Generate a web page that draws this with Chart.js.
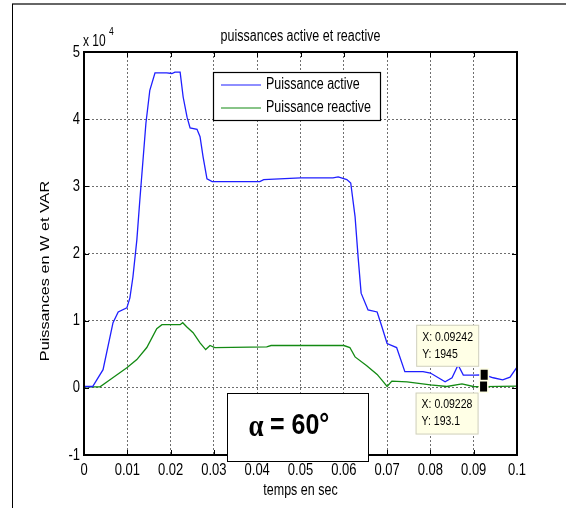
<!DOCTYPE html>
<html>
<head>
<meta charset="utf-8">
<title>puissances active et reactive</title>
<script src="https://cdn.jsdelivr.net/npm/chart.js"></script>
<style>
  body { margin: 0; background: #fff; }
  #wrap { position: relative; width: 566px; height: 508px; }
</style>
</head>
<body>
<div id="wrap"><canvas id="pq"></canvas></div>
<script>
// temps (s) / puissance active (W)
const tActive = [0, 0.002, 0.0044, 0.0067, 0.0079, 0.0099, 0.0106, 0.0113, 0.0122, 0.0129,
  0.0143, 0.0152, 0.0164, 0.0191, 0.0203, 0.021, 0.0222, 0.0229, 0.0238, 0.0245,
  0.0261, 0.0268, 0.0275, 0.0284, 0.0296, 0.0406, 0.0415, 0.05, 0.0575, 0.0587,
  0.0607, 0.0616, 0.0626, 0.0633, 0.064, 0.0656, 0.0677, 0.0688, 0.07, 0.0722,
  0.0741, 0.0783, 0.08, 0.0834, 0.085, 0.0864, 0.0876, 0.0903, 0.09242, 0.0945,
  0.0967, 0.0984, 0.1];
const pActive = [200, 200, 2700, 9700, 11300, 11900, 13400, 16500, 22000, 28000,
  39400, 44300, 46900, 46900, 46800, 47000, 47000, 43300, 40300, 38700,
  38500, 37400, 34400, 31100, 30700, 30700, 31000, 31250, 31250, 31400,
  31000, 30500, 25500, 19500, 14100, 11600, 11300, 9100, 6600, 6000,
  2400, 2400, 2200, 900, 1500, 3400, 1900, 1900, 1945, 1500,
  1200, 1600, 3100];

// temps (s) / puissance reactive (VAR)
const tReactive = [0, 0.0037, 0.006, 0.0099, 0.0122, 0.0145, 0.0168, 0.018, 0.0222, 0.0228,
  0.0237, 0.0252, 0.0268, 0.0281, 0.0291, 0.0302, 0.0422, 0.0432, 0.06, 0.0614,
  0.0626, 0.0653, 0.0677, 0.069, 0.07, 0.0711, 0.0746, 0.08, 0.0838, 0.0873,
  0.0899, 0.09228, 0.1];
const qReactive = [150, 150, 1200, 3000, 4200, 6000, 8800, 9400, 9400, 9700,
  9100, 8200, 6700, 5700, 6300, 6000, 6100, 6300, 6300, 6000,
  4600, 3300, 2000, 1000, 200, 1000, 900, 450, 200, 600,
  200, 193.1, 250];

// axes
const xMin = 0, xMax = 0.1, xStep = 0.01;
const yMin = -10000, yMax = 50000, yStep = 10000;

// curseurs de donnees
const tipActive = { x: 0.09242, y: 1945 };
const tipReactive = { x: 0.09228, y: 193.1 };

const FONT = "'Liberation Sans', Arial, sans-serif";
const SY = 1.3; // vertical stretch of the lettering

function pairs(xs, ys) { return xs.map((x, i) => ({ x: x, y: ys[i] })); }

function txt(ctx, s, x, y, size, opts) {
  opts = opts || {};
  ctx.save();
  ctx.translate(x, y);
  if (opts.rot) { ctx.rotate(-Math.PI / 2); ctx.scale(SY, 1); }
  else ctx.scale(1, opts.sy || SY);
  ctx.font = (opts.bold ? 'bold ' : '') + size + 'px ' + (opts.family || FONT);
  ctx.fillStyle = opts.color || '#000';
  ctx.textAlign = opts.align || 'left';
  ctx.textBaseline = 'middle';
  ctx.fillText(s, 0, 0);
  ctx.restore();
}

function fmtX(v) { return String(Math.round(v * 100) / 100); }

function drawTip(ctx, chart, tip, dx, dy) {
  const sx = chart.scales.x, sy = chart.scales.y;
  const px = sx.getPixelForValue(tip.x), py = sy.getPixelForValue(tip.y);
  const bx = px + dx, by = py + dy, bw = 63, bh = 42;
  ctx.save();
  ctx.fillStyle = '#ffffe6';
  ctx.strokeStyle = '#cfcfc0';
  ctx.lineWidth = 1;
  ctx.fillRect(bx, by, bw, bh);
  ctx.strokeRect(bx + 0.5, by + 0.5, bw - 1, bh - 1);
  // marker
  ctx.fillStyle = '#ffffe6';
  ctx.fillRect(px - 5, py - 6.5, 10, 13);
  ctx.fillStyle = '#000';
  ctx.fillRect(px - 3.5, py - 5, 7, 10);
  ctx.restore();
  txt(ctx, 'X: ' + tip.x, bx + 6, by + 12, 10.5);
  txt(ctx, 'Y: ' + tip.y, bx + 6, by + 29, 10.5);
}

const decor = {
  id: 'decor',
  beforeDraw(chart) {
    const ctx = chart.ctx;
    ctx.save();
    ctx.fillStyle = '#fff';
    ctx.fillRect(0, 0, chart.width, chart.height);
    ctx.strokeStyle = '#666';
    ctx.lineWidth = 2;
    ctx.beginPath(); ctx.moveTo(12, 4); ctx.lineTo(chart.width, 4); ctx.stroke();
    ctx.strokeStyle = '#000';
    ctx.lineWidth = 1;
    ctx.beginPath(); ctx.moveTo(12.5, 4); ctx.lineTo(12.5, chart.height); ctx.stroke();
    ctx.restore();
  },
  afterDraw(chart) {
    const ctx = chart.ctx, a = chart.chartArea;
    const sx = chart.scales.x, sy = chart.scales.y;

    // axes box and inward ticks
    ctx.save();
    ctx.strokeStyle = '#000';
    ctx.lineWidth = 2;
    ctx.strokeRect(a.left, a.top, a.right - a.left, a.bottom - a.top);
    ctx.lineWidth = 1;
    ctx.beginPath();
    sx.ticks.forEach(t => {
      const p = Math.round(sx.getPixelForValue(t.value)) + 0.5;
      ctx.moveTo(p, a.top); ctx.lineTo(p, a.top + 5);
      ctx.moveTo(p, a.bottom); ctx.lineTo(p, a.bottom - 5);
    });
    sy.ticks.forEach(t => {
      const p = Math.round(sy.getPixelForValue(t.value)) + 0.5;
      ctx.moveTo(a.left, p); ctx.lineTo(a.left + 5, p);
      ctx.moveTo(a.right, p); ctx.lineTo(a.right - 5, p);
    });
    ctx.stroke();
    ctx.restore();

    // tick labels
    sx.ticks.forEach(t => txt(ctx, fmtX(t.value), sx.getPixelForValue(t.value), 470, 13, { align: 'center' }));
    sy.ticks.forEach(t => txt(ctx, String(Math.round(t.value / 10000)), a.left - 4, sy.getPixelForValue(t.value), 13, { align: 'right' }));

    // exponent, title, axis labels
    txt(ctx, 'x 10', 83, 42, 12);
    txt(ctx, '4', 109, 32, 8.5);
    txt(ctx, 'puissances active et reactive', (a.left + a.right) / 2, 37, 12.5, { align: 'center' });
    txt(ctx, 'temps en sec', (a.left + a.right) / 2, 491, 12.5, { align: 'center' });
    txt(ctx, 'Puissances en W et VAR', 46, 271, 12.5, { align: 'center', rot: true });

    // legend
    ctx.save();
    ctx.fillStyle = '#fff';
    ctx.fillRect(213, 72, 168, 49);
    ctx.strokeStyle = '#000';
    ctx.lineWidth = 1.2;
    ctx.strokeRect(213.5, 72.5, 167, 48);
    chart.data.datasets.forEach((ds, i) => {
      const y = 85 + i * 23;
      ctx.strokeStyle = ds.borderColor;
      ctx.lineWidth = 1.2;
      ctx.beginPath(); ctx.moveTo(221, y); ctx.lineTo(261, y); ctx.stroke();
    });
    ctx.restore();
    chart.data.datasets.forEach((ds, i) => txt(ctx, ds.label, 266, 85 + i * 23, 12.5));

    // angle box
    ctx.save();
    ctx.fillStyle = '#fff';
    ctx.fillRect(227, 393, 142, 69);
    ctx.strokeStyle = '#000';
    ctx.lineWidth = 1;
    ctx.strokeRect(227.5, 393.5, 141, 68);
    ctx.restore();
    txt(ctx, '\u03b1', 256, 428, 27, { align: 'center', bold: true, family: "'Liberation Serif', serif", sy: 1.15 });
    txt(ctx, '= 60\u00b0', 270, 426, 25, { bold: true, sy: 1.15 });

    // data cursors
    drawTip(ctx, chart, tipActive, -68, -50);
    drawTip(ctx, chart, tipReactive, -68, 6);
  }
};

new Chart(document.getElementById('pq'), {
  type: 'line',
  data: {
    datasets: [
      { label: 'Puissance active', data: pairs(tActive, pActive), borderColor: '#1f1fff', borderWidth: 1.3 },
      { label: 'Puissance reactive', data: pairs(tReactive, qReactive), borderColor: '#138a13', borderWidth: 1.3 }
    ]
  },
  options: {
    responsive: true,
    maintainAspectRatio: false,
    animation: false,
    elements: { point: { radius: 0 }, line: { tension: 0 } },
    layout: { padding: { left: 84, top: 52, right: 49, bottom: 53 } },
    plugins: { legend: { display: false }, tooltip: { enabled: false }, title: { display: false } },
    scales: {
      x: {
        type: 'linear', min: xMin, max: xMax,
        ticks: { display: false, stepSize: xStep },
        grid: { color: '#6e6e6e', lineWidth: 1, drawTicks: false },
        border: { display: false, dash: [2, 2] },
        afterFit(s) { s.height = 0; }
      },
      y: {
        min: yMin, max: yMax,
        ticks: { display: false, stepSize: yStep },
        grid: { color: '#6e6e6e', lineWidth: 1, drawTicks: false },
        border: { display: false, dash: [2, 2] },
        afterFit(s) { s.width = 0; }
      }
    }
  },
  plugins: [decor]
});
</script>
</body>
</html>
